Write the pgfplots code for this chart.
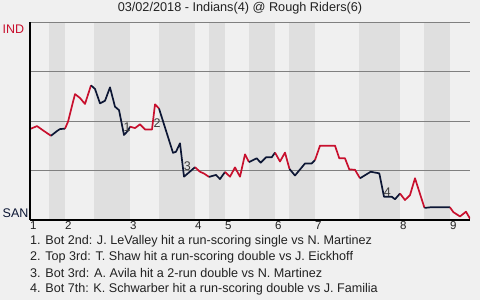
\documentclass[border=0pt]{standalone}
\usepackage{pgfplots}
\pgfplotsset{compat=1.18}
\usepackage{fontspec}
\setmainfont{Liberation Sans}
\definecolor{bg}{RGB}{240,240,240}
\definecolor{band}{RGB}{223,223,223}
\definecolor{indred}{RGB}{200,16,46}
\definecolor{sannavy}{RGB}{12,22,52}
\definecolor{gridgray}{RGB}{128,128,128}
\definecolor{txt}{RGB}{34,34,34}
\definecolor{annot}{RGB}{60,60,60}
\begin{document}
\begin{tikzpicture}
\fill[bg] (0bp,0bp) rectangle (480bp,300bp);
\path[use as bounding box] (0bp,0bp) rectangle (480bp,300bp);
\begin{axis}[
  at={(30bp,80bp)}, anchor=south west,
  scale only axis, width=440bp, height=197.7bp,
  xmin=30, xmax=470, ymin=0, ymax=100,
  axis x line*=bottom, axis y line*=left,
  axis line style={black, line width=1.2bp, -},
  ytick=\empty,
  major tick length=0pt,
  xtick={30,65,130,195,225,275,315,400,450},
  xticklabels={1,2,3,4,5,6,7,8,9},
  xticklabel style={anchor=north west, inner sep=0pt, yshift=-1.5bp, font=\fontsize{11.5bp}{11.5bp}\selectfont, text=txt},
  axis on top,
]
% background bands (bottom halves)
\addplot[fill=band, draw=none] coordinates {(49,0)(65,0)(65,100)(49,100)};
\addplot[fill=band, draw=none] coordinates {(94,0)(130,0)(130,100)(94,100)};
\addplot[fill=band, draw=none] coordinates {(159,0)(195,0)(195,100)(159,100)};
\addplot[fill=band, draw=none] coordinates {(209,0)(225,0)(225,100)(209,100)};
\addplot[fill=band, draw=none] coordinates {(249,0)(275,0)(275,100)(249,100)};
\addplot[fill=band, draw=none] coordinates {(289,0)(315,0)(315,100)(289,100)};
\addplot[fill=band, draw=none] coordinates {(359,0)(400,0)(400,100)(359,100)};
\addplot[fill=band, draw=none] coordinates {(424,0)(450,0)(450,100)(424,100)};
% horizontal reference lines
\addplot[gridgray, line width=0.9bp] coordinates {(30,25)(470,25)};
\addplot[gridgray, line width=0.9bp] coordinates {(30,50)(470,50)};
\addplot[gridgray, line width=0.9bp] coordinates {(30,75)(470,75)};
\addplot[gridgray, line width=1.2bp] coordinates {(30,100)(470,100)};
% win probability line
\addplot[indred, line width=1.7bp, line join=round] coordinates {(30,46.0)(37,47.5)(44,45.0)(51,42.6)};
\addplot[sannavy, line width=1.7bp, line join=round] coordinates {(51,42.6)(57,45.0)(60,46.0)(65,46.2)};
\addplot[indred, line width=1.7bp, line join=round] coordinates {(65,46.2)(68,49.7)(75,63.7)(80,61.7)(85,58.7)(91,68.1)};
\addplot[sannavy, line width=1.7bp, line join=round] coordinates {(91,68.1)(95,66.3)(100,59.0)(105,60.3)(110,67.1)(115,57.3)(119,55.6)(124,43.0)(128,45.2)(130,47.2)};
\addplot[indred, line width=1.7bp, line join=round] coordinates {(130,47.2)(135,46.5)(140,48.4)(145,45.8)(152,45.8)(155,58.5)(159,56.4)};
\addplot[sannavy, line width=1.7bp, line join=round] coordinates {(159,56.4)(173,34.0)(176,34.5)(180,38.8)(184,21.9)(195,26.7)};
\addplot[indred, line width=1.7bp, line join=round] coordinates {(195,26.7)(200,24.4)(204,23.5)(209,21.8)};
\addplot[sannavy, line width=1.7bp, line join=round] coordinates {(209,21.8)(216,22.8)(220,20.7)(225,24.3)};
\addplot[indred, line width=1.7bp, line join=round] coordinates {(225,24.3)(230,21.9)(235,26.6)(240,21.9)(245,33.2)(249,29.3)};
\addplot[sannavy, line width=1.7bp, line join=round] coordinates {(249,29.3)(256.7,31.2)(260.7,29.0)(266,31.7)(271.7,31.7)(275,34.1)};
\addplot[indred, line width=1.7bp, line join=round] coordinates {(275,34.1)(280,29.6)(285,34.1)(289.5,25.8)};
\addplot[sannavy, line width=1.7bp, line join=round] coordinates {(289.5,25.8)(295,22.5)(305,28.6)(311.7,28.6)(315,30.3)};
\addplot[indred, line width=1.7bp, line join=round] coordinates {(315,30.3)(320,37.6)(335,37.6)(339.3,31.2)(345,31.2)(349.3,25.6)(355,25.4)(360,21.1)};
\addplot[sannavy, line width=1.7bp, line join=round] coordinates {(360,21.1)(370.7,24.4)(379.3,23.6)(384,11.8)(391.7,11.8)(395,10.5)(400,13.4)};
\addplot[indred, line width=1.7bp, line join=round] coordinates {(400,13.4)(405,10.1)(410,12.6)(415,21.1)(424.5,6.1)};
\addplot[sannavy, line width=1.7bp, line join=round] coordinates {(424.5,6.1)(430,6.4)(450,6.4)};
\addplot[indred, line width=1.7bp, line join=round] coordinates {(450,6.4)(453.3,4.0)(460,1.8)(466,4.2)(470,0.7)};
% event annotations
\node[font=\fontsize{12.5bp}{12.5bp}\selectfont, text=annot] at (axis cs:127,46.8) {1};
\node[font=\fontsize{12.5bp}{12.5bp}\selectfont, text=annot] at (axis cs:157,48.9) {2};
\node[font=\fontsize{12.5bp}{12.5bp}\selectfont, text=annot] at (axis cs:187.3,27.3) {3};
\node[font=\fontsize{12.5bp}{12.5bp}\selectfont, text=annot] at (axis cs:387.3,14.0) {4};
\end{axis}
\node[font=\fontsize{12.7bp}{12.7bp}\selectfont, text=txt] at (240bp,291.5bp) {03/02/2018 - Indians(4) @ Rough Riders(6)};
\node[anchor=west, inner sep=0pt, font=\fontsize{12.5bp}{12.5bp}\selectfont, text=indred] at (2.5bp,271bp) {IND};
\node[anchor=west, inner sep=0pt, font=\fontsize{12.5bp}{12.5bp}\selectfont, text=sannavy] at (2.5bp,86.7bp) {SAN};
\begin{scope}[every node/.style={anchor=west, inner sep=0pt, font=\fontsize{12.6bp}{12.6bp}\selectfont, text=txt}]
\node at (30bp,58.3bp) {1. Bot 2nd: J. LeValley hit a run-scoring single vs N. Martinez};
\node at (30bp,42.7bp) {2. Top 3rd: T. Shaw hit a run-scoring double vs J. Eickhoff};
\node at (30bp,27.3bp) {3. Bot 3rd: A. Avila hit a 2-run double vs N. Martinez};
\node at (30bp,10.7bp) {4. Bot 7th: K. Schwarber hit a run-scoring double vs J. Familia};
\end{scope}
\end{tikzpicture}
\end{document}
